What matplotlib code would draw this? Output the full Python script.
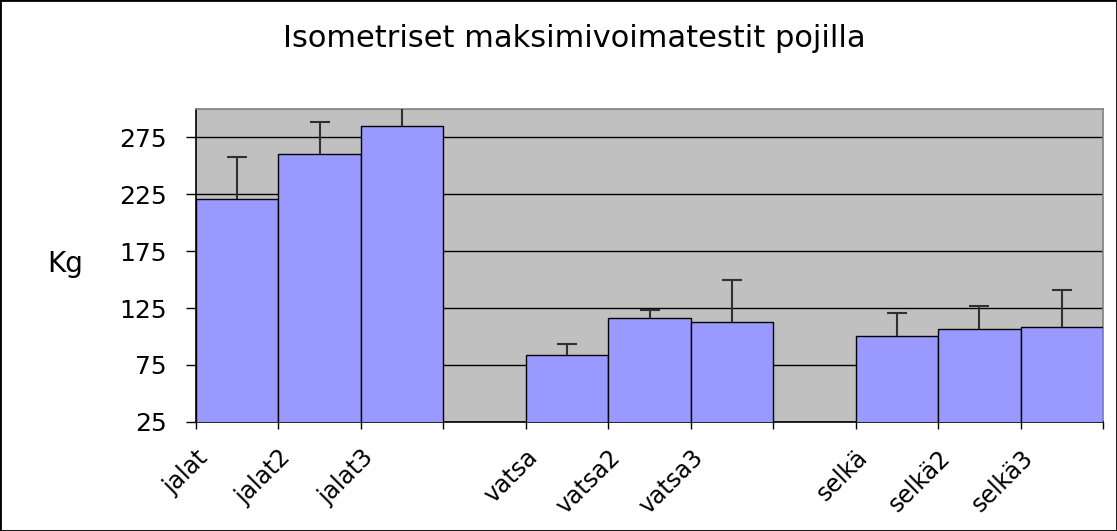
#!/usr/bin/env python3
import numpy as np
import matplotlib
matplotlib.use("Agg")
import matplotlib.pyplot as plt
from matplotlib.patches import Rectangle

# categories (empty strings are the gaps between groups)
categories = ["jalat", "jalat2", "jalat3", "",
			  "vatsa", "vatsa2", "vatsa3", "",
			  "selkä", "selkä2", "selkä3"]
# mean values (kg), nan = no bar
means = [220.6, 260.4, 285.0, np.nan,
		 83.8, 116.0, 113.1, np.nan,
		 100.8, 106.9, 108.3]
# upper error (sd)
errors = [36.9, 28.1, 17.0, np.nan,
		  9.4, 7.6, 36.8, np.nan,
		  20.2, 20.2, 32.5]
y_ticks = [25, 75, 125, 175, 225, 275]


def main():
	fig = plt.figure(figsize=(11.17, 5.31), dpi=100)
	ax = fig.add_axes([0.1755, 0.2058, 0.812, 0.5889])
	ax.set_facecolor("#C0C0C0")

	x_values = np.arange(len(categories))
	mean_arr = np.array(means)
	top_arr = mean_arr + np.array(errors)
	ax.bar(x_values, mean_arr, width=1.0, color="#9999FF",
		   edgecolor="black", linewidth=1.0, zorder=3)
	# upper error bars only (stem + cap)
	ax.vlines(x_values, mean_arr, top_arr, color="#303030",
			  linewidth=1.5, zorder=4)
	ax.plot(x_values, top_arr, linestyle="none", marker="_",
			markersize=14, markeredgewidth=1.5, color="#303030", zorder=4)

	ax.set_xlim(-0.5, len(categories) - 0.5)
	ax.set_ylim(25, 300)

	# gridlines
	ax.set_yticks(y_ticks)
	ax.grid(axis="y", color="black", linewidth=1.0)
	ax.set_axisbelow(True)

	# ticks on category boundaries, label at left edge of each slot
	boundaries = np.arange(len(categories) + 1) - 0.5
	ax.set_xticks(boundaries)
	ax.set_xticklabels(categories + [""], rotation=45, ha="right", va="top",
					   rotation_mode="anchor", fontsize=17)
	ax.tick_params(axis="x", direction="out", length=5, width=1, pad=12)
	ax.tick_params(axis="y", direction="out", length=7, width=1, pad=14,
				   labelsize=18)

	for side in ["left", "bottom"]:
		ax.spines[side].set_color("black")
		ax.spines[side].set_linewidth(1.2)
	for side in ["top", "right"]:
		ax.spines[side].set_color("#808080")
		ax.spines[side].set_linewidth(1.2)

	fig.text(0.514, 0.9115, "Isometriset maksimivoimatestit pojilla",
			 ha="center", va="baseline", fontsize=22)
	fig.text(0.058, 0.503, "Kg", ha="center", va="center", fontsize=20)

	# outer chart border
	fig.patches.append(Rectangle((0, 0), 1, 1, transform=fig.transFigure,
								 fill=False, edgecolor="black", linewidth=2))

	fig.savefig("out.png", dpi=100)
	plt.close(fig)


if __name__ == "__main__":
	main()
